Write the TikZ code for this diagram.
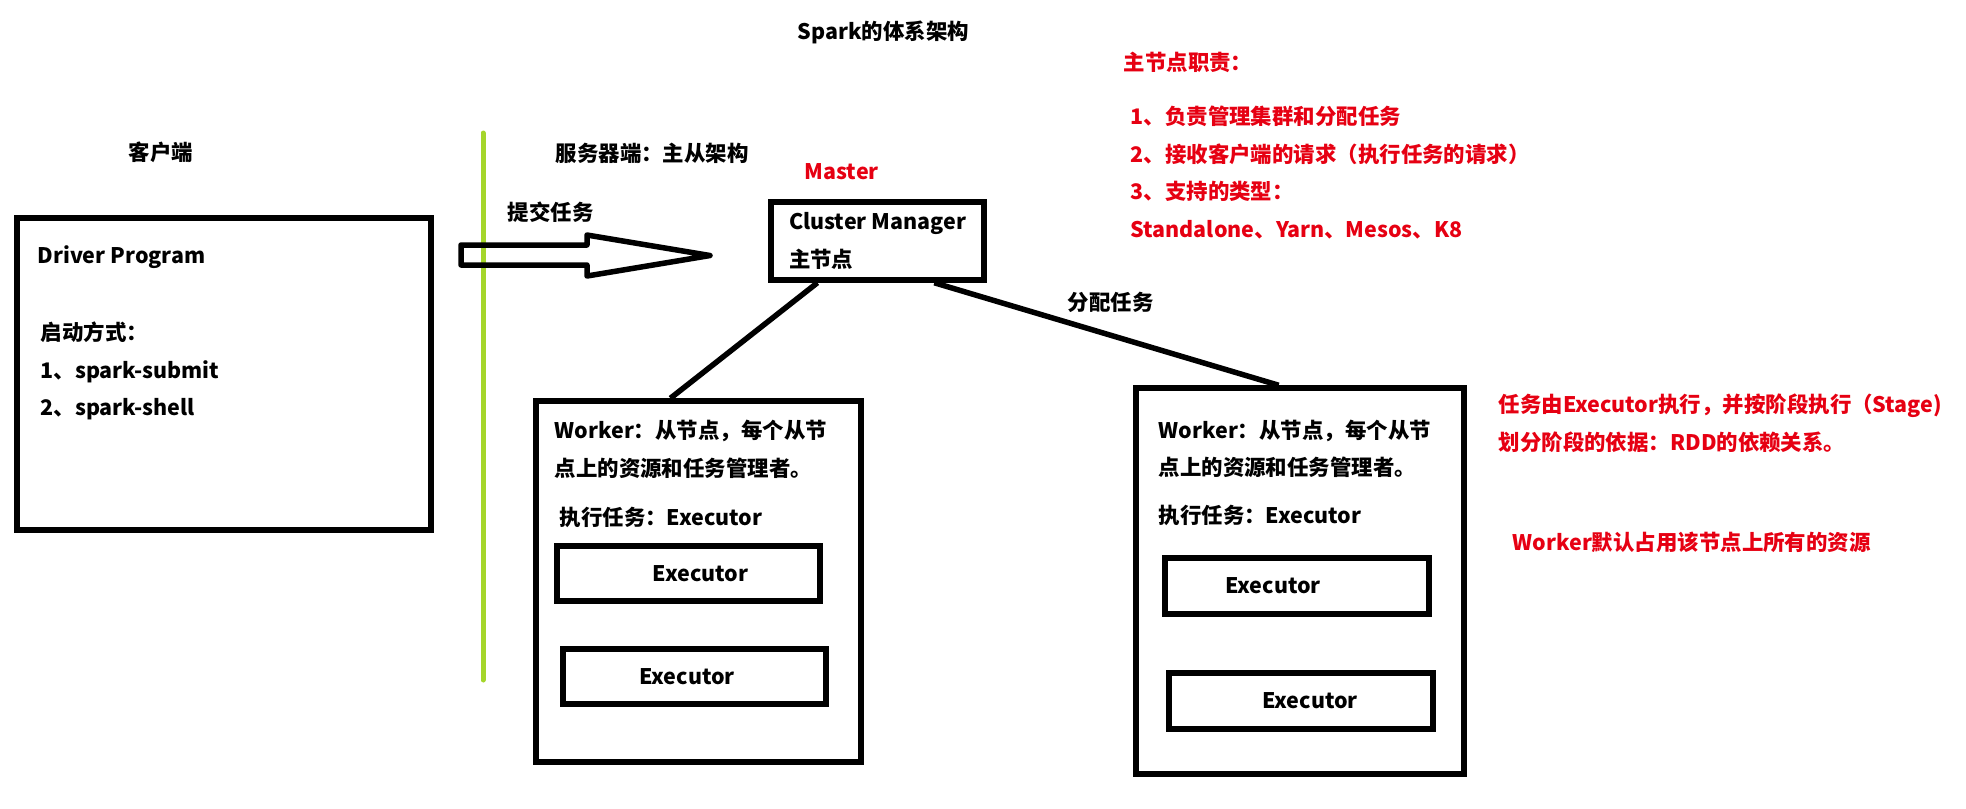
\documentclass[tikz,border=0pt]{standalone}
\usepackage{fontspec}
\setmainfont{Noto Sans CJK SC}
\usetikzlibrary{calc}
\definecolor{ink}{HTML}{000000}
\definecolor{note}{HTML}{E60012}
\definecolor{sepgreen}{HTML}{A5D62B}
\newcommand\dgmfont{\fontsize{6.1}{10.7}\selectfont\bfseries}
\tikzset{
  every picture/.style={line join=miter},
  txt/.style={font=\dgmfont, text=ink, inner sep=0pt, anchor=west, align=left},
  note/.style={txt, text=note},
  frame/.style={draw=ink, line width=0.55mm, inner sep=0pt},
  exec/.style={frame, font=\dgmfont, minimum width=2.63cm, minimum height=0.55cm},
  link/.style={draw=ink, line width=0.55mm},
  sep/.style={draw=sepgreen, line width=0.5mm, line cap=round},
}

\begin{document}
\begin{tikzpicture}
  \useasboundingbox (0,0) rectangle (19.66,-8.08);
  % ---------------- headings ----------------
  \node[txt] (title) at (7.97,-0.32) {Spark的体系架构};
  \node[txt] (client) at (1.28,-1.52) {客户端};
  \node[txt] (server) at (5.55,-1.53) {服务器端：主从架构};

  % ---------------- client side ----------------
  \node[frame, minimum width=4.14cm, minimum height=3.12cm] (drv) at (2.24,-3.74) {};
  \node[txt] (drvname) at (0.37,-2.57) {Driver Program};
  \node[txt] (drvstart) at (0.40,-3.71) {启动方式：\\1、spark-submit\\2、spark-shell};

  % separator between client and server
  \coordinate (septop) at (4.83,-1.33);
  \coordinate (sepbot) at (4.83,-6.80);
  \draw[sep] (septop) -- (sepbot);

  % hollow submit arrow
  \node[txt] (submit) at (5.07,-2.12) {提交任务};
  \draw[link, line join=round] (4.61,-2.45) -- (5.87,-2.45) -- (5.87,-2.35) -- (7.10,-2.555)
    -- (5.87,-2.76) -- (5.87,-2.65) -- (4.61,-2.65) -- cycle;

  % ---------------- master ----------------
  \node[note] (master) at (8.04,-1.72) {Master};
  \node[frame, font=\dgmfont, align=left, minimum width=2.13cm, minimum height=0.78cm] (cm) at (8.775,-2.41)
    {Cluster Manager\\主节点};
  \node[note] (duty) at (11.23,-0.62) {主节点职责：};
  \node[note] (dutylist) at (11.30,-1.725)
    {1、负责管理集群和分配任务\\2、接收客户端的请求（执行任务的请求）\\3、支持的类型：\\Standalone、Yarn、Mesos、K8};

  % ---------------- workers ----------------
  \node[frame, minimum width=3.25cm, minimum height=3.61cm] (wl) at (6.985,-5.815) {};
  \node[frame, minimum width=3.28cm, minimum height=3.86cm] (wr) at (13.00,-5.81) {};
  \node[txt] (wltxt) at (5.54,-4.495) {Worker：从节点，每个从节\\点上的资源和任务管理者。};
  \node[txt] (wlrun) at (5.59,-5.17) {执行任务：Executor};
  \node[txt] (wrtxt) at (11.58,-4.49) {Worker：从节点，每个从节\\点上的资源和任务管理者。};
  \node[txt] (wrrun) at (11.58,-5.15) {执行任务：Executor};
  \node[exec] (el1) at (6.885,-5.735) {\hspace*{0.24cm}Executor};
  \node[exec] (el2) at (6.945,-6.765) {\hspace*{-0.15cm}Executor};
  \node[exec, minimum width=2.64cm, minimum height=0.56cm] (er1) at (12.97,-5.86) {Executor\hspace*{0.48cm}};
  \node[exec, minimum width=2.64cm, minimum height=0.56cm] (er2) at (13.01,-7.01) {\hspace*{0.18cm}Executor};

  \draw[link] ($(cm.south west)!0.225!(cm.south east)$) -- ($(wl.north west)!0.415!(wl.north east)$);
  \draw[link] ($(cm.south west)!0.76!(cm.south east)$) -- ($(wr.north west)!0.436!(wr.north east)$);
  \node[txt] (assign) at (10.67,-3.02) {分配任务};

  % notes on the executors
  \node[note] (stage) at (14.98,-4.235) {任务由Executor执行，并按阶段执行（Stage)\\划分阶段的依据：RDD的依赖关系。};
  \node[note] (res) at (15.12,-5.42) {Worker默认占用该节点上所有的资源};
\end{tikzpicture}
\end{document}
